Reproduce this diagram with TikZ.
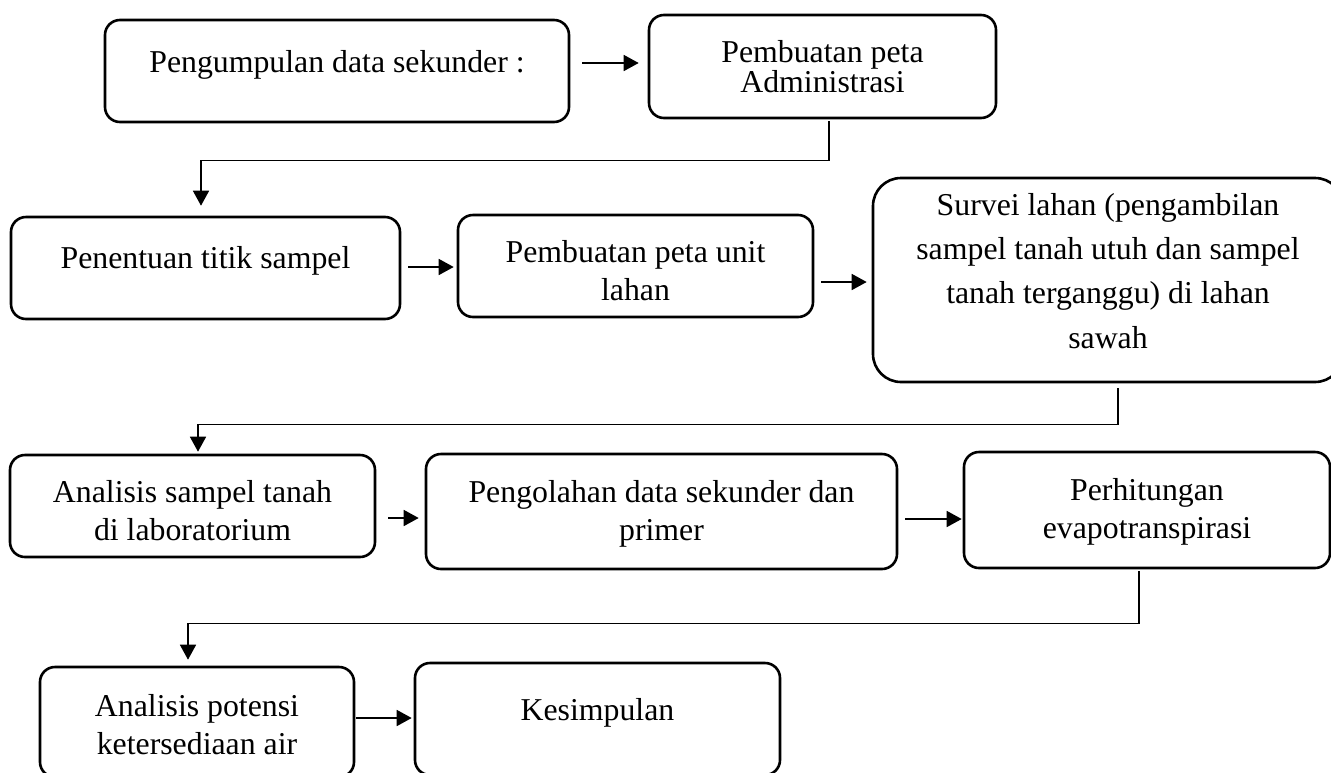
\documentclass[tikz,border=0pt]{standalone}
\usepackage{fontspec}
\setmainfont{Liberation Serif}
\usetikzlibrary{arrows.meta}

\begin{document}
\begin{tikzpicture}[x=1pt, y=-1pt,
  box/.style={draw, line width=2.6pt, rounded corners=15pt, inner sep=0pt, align=center,
    text depth=7pt, font=\fontsize{31.8pt}{38pt}\selectfont},
  arr/.style={line width=1.6pt, -{Triangle[length=15pt,width=16pt]}}]
  \useasboundingbox (0,0) rectangle (1331,772);
  \node[box, minimum width=464pt, minimum height=102pt, text height=9pt] (pengumpulan) at (337,71) {Pengumpulan data sekunder :};
  \node[box, minimum width=347pt, minimum height=103pt, text height=58pt, font=\fontsize{31.8pt}{28.5pt}\selectfont] (admin) at (822.5,66.5) {Pembuatan peta\\Administrasi};
  \node[box, minimum width=389pt, minimum height=102pt, text height=7pt] (penentuan) at (205.5,268) {Penentuan titik sampel};
  \node[box, minimum width=355pt, minimum height=102pt, text height=75pt] (unitlahan) at (635.5,266) {Pembuatan peta unit\\lahan};
  \node[box, minimum width=470pt, minimum height=204pt, text height=143pt, rounded corners=28pt, font=\fontsize{31.8pt}{44.3pt}\selectfont] (survei) at (1108,280) {Survei lahan (pengambilan\\sampel tanah utuh dan sampel\\tanah terganggu) di lahan\\sawah};
  \node[box, minimum width=365pt, minimum height=102pt, text height=75pt] (analisis) at (192.5,506) {Analisis sampel tanah\\di laboratorium};
  \node[box, minimum width=471pt, minimum height=115pt, text height=64pt] (olah) at (661.5,511.5) {Pengolahan data sekunder dan\\primer};
  \node[box, minimum width=366pt, minimum height=116pt, text height=63pt] (hitung) at (1147,510) {Perhitungan\\evapotranspirasi};
  \node[box, minimum width=314pt, minimum height=110pt, text height=71pt] (potensi) at (197,722) {Analisis potensi\\ketersediaan air};
  \node[box, minimum width=365pt, minimum height=112pt, text height=9pt] (simpul) at (597.5,719) {Kesimpulan};

  \draw[arr] ([xshift=12pt,yshift=8pt]pengumpulan.east) -- ([xshift=-9pt,yshift=3.5pt]admin.west);
  \draw[arr] ([xshift=6.5pt,yshift=-2pt]admin.south) -- ++(0,39) -| ([xshift=-4.5pt,yshift=10pt]penentuan.north);
  \draw[arr] ([xshift=7pt,yshift=1pt]penentuan.east) -- ([xshift=-3pt,yshift=-1pt]unitlahan.west);
  \draw[arr] ([xshift=7pt,yshift=-16pt]unitlahan.east) -- ([xshift=-5pt,yshift=-2pt]survei.west);
  \draw[arr] ([xshift=10pt,yshift=-5pt]survei.south) -- ++(0,36) -| ([xshift=5.5pt,yshift=2pt]analisis.north);
  \draw[arr] ([xshift=12pt,yshift=-12pt]analisis.east) -- ([xshift=-6pt,yshift=-6.5pt]olah.west);
  \draw[arr] ([xshift=7pt,yshift=-7.5pt]olah.east) -- ([xshift=-1pt,yshift=-9pt]hitung.west);
  \draw[arr] ([xshift=-8pt,yshift=-2pt]hitung.south) -- ++(0,52) -| ([xshift=-9pt,yshift=6pt]potensi.north);
  \draw[arr] ([xshift=1pt,yshift=4pt]potensi.east) -- ([xshift=-2pt,yshift=1pt]simpul.west);
\end{tikzpicture}
\end{document}
